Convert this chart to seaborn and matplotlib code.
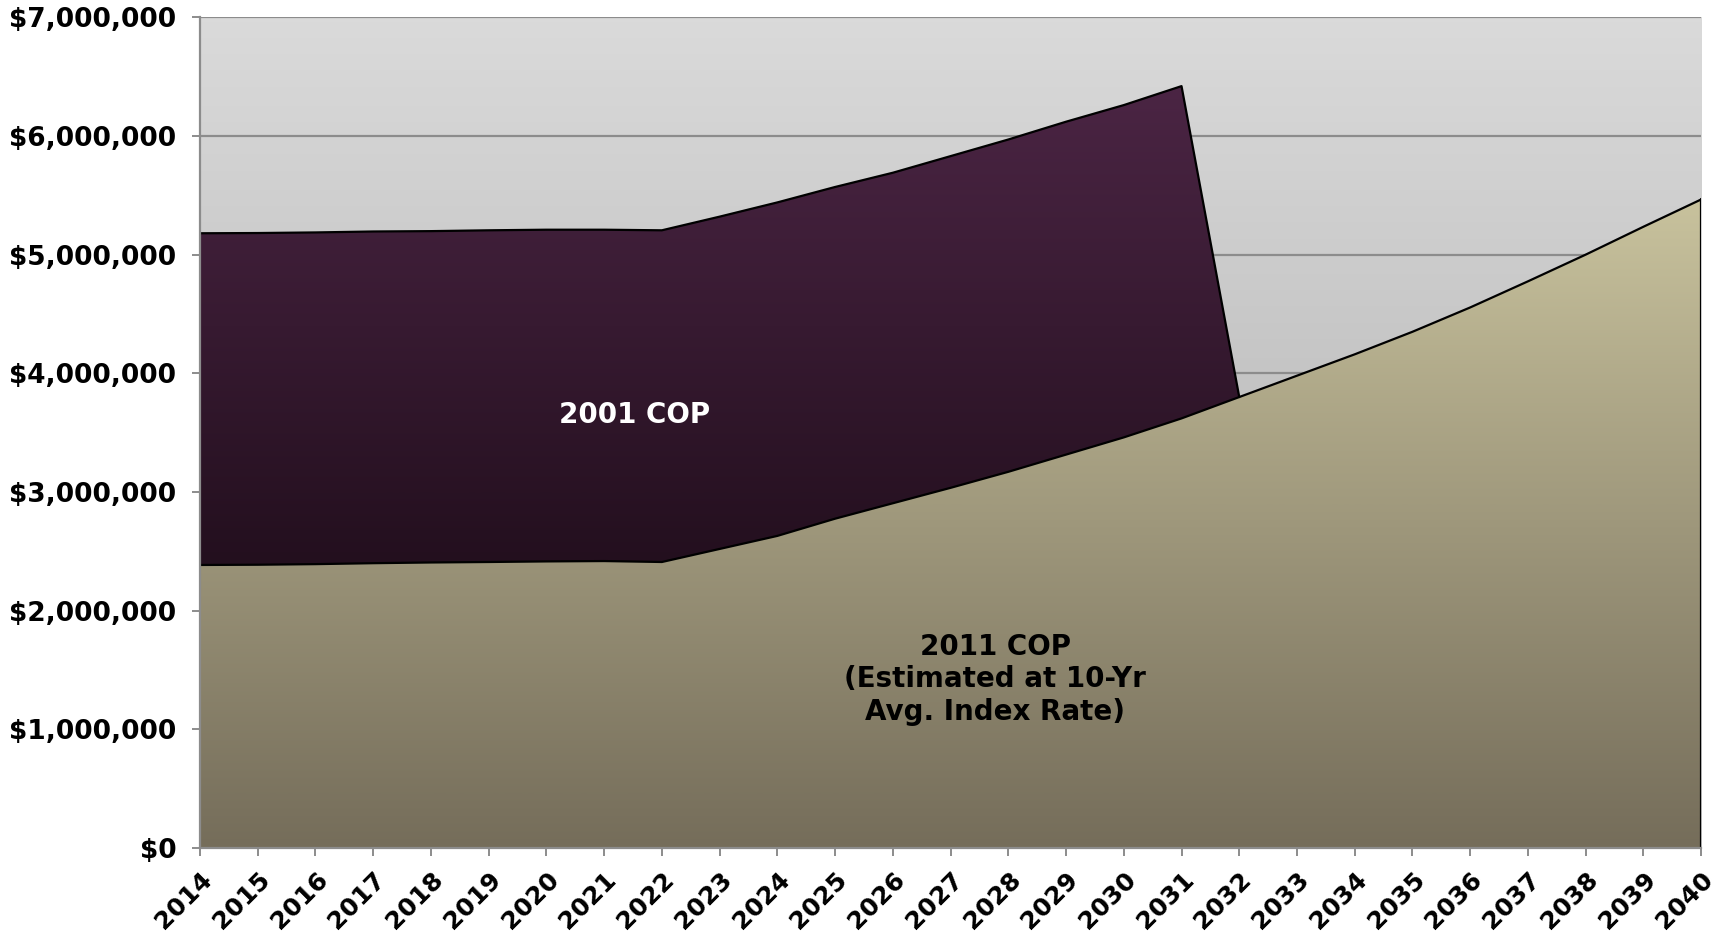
import numpy as np
import pandas as pd
import matplotlib
matplotlib.use("Agg")
import matplotlib.pyplot as plt
import seaborn as sns
from matplotlib.colors import LinearSegmentedColormap
from matplotlib.ticker import FuncFormatter

# ---------------- data (values in dollars) ----------------
years = list(range(2014, 2041))
cop_2011 = [2.385, 2.387, 2.392, 2.400, 2.406, 2.410, 2.415, 2.418, 2.410,
            2.520, 2.630, 2.775, 2.905, 3.035, 3.170, 3.315, 3.460, 3.620,
            3.800, 3.980, 4.160, 4.350, 4.555, 4.775, 5.000, 5.235, 5.465]
cop_2001 = [2.795, 2.795, 2.795, 2.795, 2.792, 2.795, 2.795, 2.792, 2.795,
            2.800, 2.810, 2.795, 2.785, 2.795, 2.800, 2.805, 2.800, 2.800,
            0.0]
cop_2011 = [v * 1e6 for v in cop_2011]
cop_2001 = [v * 1e6 for v in cop_2001]
years_2001 = years[:len(cop_2001)]
yticks = [0, 1e6, 2e6, 3e6, 4e6, 5e6, 6e6, 7e6]

df11 = pd.DataFrame({"year": years, "value": cop_2011})
df01 = pd.DataFrame({"year": years_2001, "value": cop_2001,
                     "base": cop_2011[:len(cop_2001)]})
df01["total"] = df01["base"] + df01["value"]

# ---------------- style ----------------
sns.set_theme(style="white")
plt.rcParams["font.family"] = ["DejaVu Sans"]
plt.rcParams["font.weight"] = "bold"

fig = plt.figure(figsize=(17.18, 9.39), dpi=100)
ax = fig.add_axes([0.1164, 0.0969, 0.8738, 0.8847])

x0, x1 = years[0], years[-1]
y0, y1 = yticks[0], yticks[-1]

grad = np.linspace(0, 1, 256).reshape(-1, 1)

# background gradient
bg_cmap = LinearSegmentedColormap.from_list("bg", ["#a9a9a9", "#dadada"])
ax.imshow(grad, extent=[x0, x1, y0, y1], aspect="auto", origin="lower",
          cmap=bg_cmap, zorder=0, interpolation="bicubic")

# gridlines
for yt in yticks[1:]:
    ax.axhline(yt, color="#8c8c8c", lw=1.6, zorder=1)

# 2011 COP area (gradient clipped to polygon)
tan_cmap = LinearSegmentedColormap.from_list("tan", ["#756d5a", "#c8c29d"])
poly11 = ax.fill_between(df11["year"], 0, df11["value"], facecolor="none",
                         edgecolor="none", zorder=2)
im11 = ax.imshow(grad, extent=[x0, x1, 0, max(cop_2011)], aspect="auto",
                 origin="lower", cmap=tan_cmap, zorder=2, interpolation="bicubic")
im11.set_clip_path(poly11.get_paths()[0], transform=ax.transData)

# 2001 COP area stacked on top
pur_cmap = LinearSegmentedColormap.from_list("pur", ["#230f1e", "#4b2544"])
poly01 = ax.fill_between(df01["year"], df01["base"], df01["total"],
                         facecolor="none", edgecolor="none", zorder=3)
im01 = ax.imshow(grad, extent=[x0, x1, min(df01["base"]), max(df01["total"])],
                 aspect="auto", origin="lower", cmap=pur_cmap, zorder=3,
                 interpolation="bicubic")
im01.set_clip_path(poly01.get_paths()[0], transform=ax.transData)

# outlines
sns.lineplot(data=df11, x="year", y="value", color="black", lw=1.6,
             ax=ax, zorder=5, estimator=None, sort=False)
sns.lineplot(data=df01, x="year", y="total", color="black", lw=1.6,
             ax=ax, zorder=5, estimator=None, sort=False)
ax.plot([years[-1], years[-1]], [0, cop_2011[-1]], color="black", lw=1.6, zorder=5)

ax.set_xlim(x0, x1)
ax.set_ylim(y0, y1)

# axes styling
for s in ["top", "right"]:
    ax.spines[s].set_visible(False)
for s in ["left", "bottom"]:
    ax.spines[s].set_color("#8c8c8c")
    ax.spines[s].set_linewidth(1.6)
    ax.spines[s].set_zorder(6)

ax.set_yticks(yticks)
ax.yaxis.set_major_formatter(FuncFormatter(lambda v, p: "${:,.0f}".format(v)))
ax.set_xticks(years)
ax.set_xticklabels([str(y) for y in years], rotation=45, ha="right",
                   va="top", rotation_mode="anchor")
ax.tick_params(axis="both", which="major", direction="out", length=6,
               width=1.4, color="#8c8c8c", labelcolor="black",
               bottom=True, left=True)
ax.tick_params(axis="y", pad=11, labelsize=19)
ax.tick_params(axis="x", pad=8, labelsize=18)
for lab in ax.get_xticklabels() + ax.get_yticklabels():
    lab.set_fontweight("bold")

ax.set_xlabel("")
ax.set_ylabel("")

# labels inside the areas
ax.text(2021.52, 3.65e6, "2001 COP", color="white", fontsize=20,
        fontweight="bold", ha="center", va="center", zorder=7)
ax.text(2027.77, 1.42e6, "2011 COP\n(Estimated at 10-Yr\nAvg. Index Rate)",
        color="black", fontsize=20, fontweight="bold", ha="center",
        va="center", linespacing=1.2, zorder=7)

fig.savefig("out.png", dpi=100)
